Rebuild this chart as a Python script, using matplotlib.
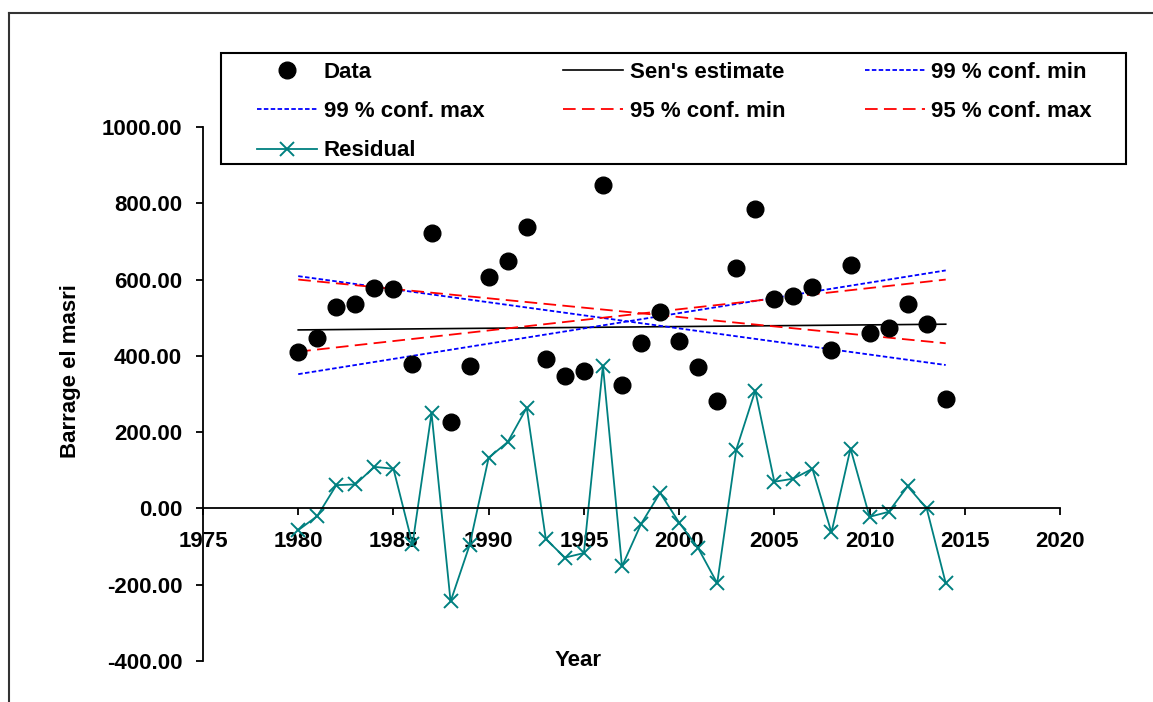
import matplotlib
matplotlib.use('Agg')
import matplotlib.pyplot as plt
from matplotlib.ticker import FormatStrFormatter, MultipleLocator
from matplotlib.lines import Line2D
from matplotlib.patches import Rectangle

plt.rcParams['font.family'] = ['Liberation Sans', 'DejaVu Sans']

# Datos
years = list(range(1980, 2015))
data = [409, 448, 528, 535, 579, 574, 379, 721, 226, 374,
        607, 648, 737, 392, 348, 360, 849, 324, 433, 515,
        438, 370, 281, 630, 785, 548, 557, 581, 415, 637,
        460, 474, 536, 483, 287]
residual = [-57, -20, 61, 63, 109, 104, -94, 250, -244, -96,
            133, 174, 264, -80, -129, -117, 374, -152, -41, 41,
            -37, -104, -196, 154, 309, 70, 78, 104, -63, 157,
            -22, -9, 58, 0, -196]

# Líneas de tendencia (extremos 1980 y 2014)
line_years = [1980, 2014]
sen_est = [468, 483]
conf99_min = [609, 376]
conf99_max = [352, 624]
conf95_min = [600, 433]
conf95_max = [411, 600]

fig = plt.figure(figsize=(11.53, 7.02), dpi=100)
ax = fig.add_axes([203 / 1153, 41 / 702, 857 / 1153, 534 / 702])

teal = '#008080'
h_data, = ax.plot(years, data, 'o', color='black', markersize=12,
                  linestyle='none', clip_on=False, zorder=5, label='Data')
h_sen, = ax.plot(line_years, sen_est, color='black', lw=1.2, label="Sen's estimate")
h_99min, = ax.plot(line_years, conf99_min, color='blue', lw=1.3,
                   dashes=(2.5, 1.3), label='99 % conf. min')
h_99max, = ax.plot(line_years, conf99_max, color='blue', lw=1.3,
                   dashes=(2.5, 1.3), label='99 % conf. max')
h_95min, = ax.plot(line_years, conf95_min, color='red', lw=1.3,
                   dashes=(7, 3.5), label='95 % conf. min')
h_95max, = ax.plot(line_years, conf95_max, color='red', lw=1.3,
                   dashes=(7, 3.5), label='95 % conf. max')
h_res, = ax.plot(years, residual, color=teal, lw=1.3, marker='x',
                 markersize=10, markeredgewidth=1.4, clip_on=False,
                 label='Residual')

ax.set_xlim(1975, 2020)
ax.set_ylim(-400, 1000)
ax.xaxis.set_major_locator(MultipleLocator(5))
ax.yaxis.set_major_locator(MultipleLocator(200))
ax.yaxis.set_major_formatter(FormatStrFormatter('%.2f'))

ax.spines['top'].set_visible(False)
ax.spines['right'].set_visible(False)
ax.spines['bottom'].set_position(('data', 0))
ax.spines['left'].set_linewidth(1.3)
ax.spines['bottom'].set_linewidth(1.3)

ax.tick_params(axis='both', direction='out', length=5, width=1.3,
               labelsize=16, pad=10)
ax.tick_params(axis='x', pad=11)
for lbl in ax.get_xticklabels() + ax.get_yticklabels():
    lbl.set_fontweight('bold')

ax.set_xlabel('Year', fontsize=16, fontweight='bold')
ax.xaxis.set_label_coords((578 - 203) / 857, (661 - 650) / 534)
ax.set_ylabel('Barrage el masri', fontsize=16, fontweight='bold')
ax.yaxis.set_label_coords((81 - 203) / 857, (661 - 371) / 534)

# Leyenda en 3 columnas (orden por columnas)
handles = [h_data, h_99max, h_res, h_sen, h_95min, h_99min, h_95max]
leg = fig.legend(handles=handles, labels=[h.get_label() for h in handles],
                 ncol=3, mode='expand', loc='upper left',
                 bbox_to_anchor=(257 / 1153, 1 - 62 / 702, (1092 - 257) / 1153, 0.0),
                 frameon=False, borderpad=0, borderaxespad=0,
                 handlelength=2.7, handletextpad=0.3, labelspacing=0.82,
                 prop={'size': 16, 'weight': 'bold'})

# Marco de la leyenda
fig.patches.append(Rectangle((221 / 1153, 1 - 164 / 702), 905 / 1153, 111 / 702,
                             transform=fig.transFigure, fill=False,
                             edgecolor='black', lw=1.5, zorder=10))

# Marco exterior
fig.add_artist(Line2D([9 / 1153, 9 / 1153], [0, 1 - 13 / 702],
                      transform=fig.transFigure, color='#333333', lw=1.5))
fig.add_artist(Line2D([9 / 1153, 1], [1 - 13 / 702, 1 - 13 / 702],
                      transform=fig.transFigure, color='#333333', lw=1.5))

fig.savefig('out.png', dpi=100)
